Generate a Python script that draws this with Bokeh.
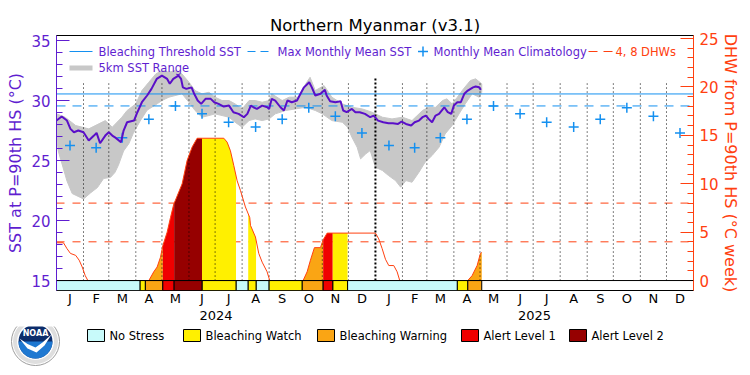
import numpy as np
import pandas as pd
from bokeh.plotting import figure
from bokeh.layouts import column
from bokeh.models import Range1d, LinearAxis, FixedTicker, Label, Span
from bokeh.embed import file_html
from bokeh.resources import INLINE
from bokeh.core.properties import value

# ---------------- data ----------------
title = "Northern Myanmar (v3.1)"
start_date = "2024-01-01"
end_date = "2026-01-01"

# daily SST, days since 2024-01-01 / degC
sst_day = [0, 6, 12, 16, 20, 25, 31, 37, 43, 46, 50, 56, 60, 64, 68, 74, 77, 81, 89, 92,
           98, 104, 109, 115, 121, 127, 130, 134, 140, 143, 145, 149, 155, 158, 162, 166, 171, 177, 181, 186,
           192, 198, 203, 209, 215, 219, 223, 226, 230, 236, 242, 244, 247, 251, 257, 261, 265, 270, 276, 280,
           284, 290, 293, 297, 303, 308, 310, 314, 320, 326, 329, 333, 339, 343, 348, 354, 360, 364, 369, 375,
           381, 386, 392, 396, 401, 407, 411, 416, 420, 424, 427, 431, 435, 439, 445, 449, 453, 456, 460, 464,
           468, 472, 478, 481, 485, 487]
sst_val = [28.33, 28.67, 28.33, 27.64, 27.36, 27.5, 27.36, 26.67, 27.08, 27.3, 26.44, 27.08, 27.36, 27.08, 26.89, 26.53, 27.5, 28.19, 28.33, 28.89,
           29.86, 30.42, 30.97, 31.8, 32.08, 31.8, 31.4, 31.8, 32.08, 31.8, 31.1, 30.97, 31.1, 30.56, 30.0, 29.72, 30.14, 30.14, 29.86, 29.72,
           29.5, 29.58, 29.03, 28.89, 28.61, 28.89, 29.58, 29.44, 29.3, 29.58, 29.44, 29.3, 30.14, 30.0, 29.44, 29.17, 30.0, 29.86, 30.0, 30.56,
           31.1, 31.53, 31.1, 30.42, 30.56, 30.89, 30.42, 29.94, 29.86, 29.94, 29.17, 29.03, 29.3, 29.03, 29.03, 28.89, 28.61, 28.75, 28.33, 28.19,
           28.11, 28.11, 28.05, 28.25, 28.05, 27.92, 28.19, 28.33, 28.61, 28.75, 28.47, 28.19, 28.75, 28.89, 29.44, 29.03, 28.89, 29.58, 29.86, 29.86,
           30.56, 30.83, 31.1, 31.17, 31.1, 30.89]

# 5km SST range envelope
sst_max_day = [0, 10, 22, 37, 56, 64, 75, 81, 91, 98, 106, 114, 121, 129, 136, 144, 152, 159, 167, 175,
               182, 190, 198, 205, 213, 221, 228, 236, 244, 247, 259, 267, 278, 286, 291, 297, 307, 316, 328, 339,
               351, 362, 374, 385, 397, 408, 420, 427, 435, 443, 448, 454, 460, 467, 475, 481, 488]
sst_max = [28.89, 28.61, 27.92, 27.64, 28.33, 27.78, 28.61, 29.17, 29.72, 30.83, 31.53, 32.22, 32.5, 32.36, 32.5, 32.22, 31.53, 30.83, 30.56, 30.69,
           30.28, 30.0, 30.0, 29.72, 29.3, 30.0, 30.0, 29.86, 30.0, 30.56, 30.0, 30.28, 30.28, 31.39, 31.94, 30.83, 31.25, 30.28, 29.72, 29.44,
           29.3, 29.03, 28.61, 28.47, 28.61, 28.33, 29.17, 29.44, 29.44, 30.0, 30.14, 29.72, 30.28, 30.97, 31.67, 31.81, 31.39]
sst_min_day = [0, 2, 12, 18, 31, 39, 47, 54, 62, 67, 71, 77, 83, 88, 96, 104, 116, 121, 129, 144,
               152, 159, 167, 175, 182, 190, 198, 205, 213, 221, 228, 236, 244, 251, 263, 274, 286, 297, 305, 316,
               328, 334, 339, 345, 349, 355, 360, 366, 374, 381, 389, 395, 401, 408, 416, 423, 431, 439, 446, 454,
               462, 469, 477, 485, 488]
sst_min = [27.0, 25.8, 23.3, 22.25, 21.8, 22.3, 22.75, 23.5, 23.6, 24.0, 24.6, 25.8, 26.4, 27.25, 28.3, 29.2, 29.75, 30.0, 30.28, 30.56,
           29.86, 29.17, 28.61, 28.75, 28.89, 28.75, 28.61, 28.19, 27.78, 28.33, 28.47, 28.33, 28.47, 28.89, 29.17, 29.3, 29.44, 29.17, 28.89, 28.33,
           28.19, 27.78, 26.94, 26.11, 25.14, 25.56, 25.83, 24.44, 24.17, 23.75, 23.33, 22.78, 23.33, 23.19, 24.03, 24.86, 25.42, 26.11, 27.22, 27.92,
           28.89, 29.72, 30.56, 30.28, 30.69]

# monthly mean climatology (Jan..Dec), max monthly mean, bleaching threshold
clim_sst = [26.25, 26.06, 26.9, 28.45, 29.55, 28.9, 28.2, 27.8, 28.45, 29.4, 28.7, 27.3]
mmm_sst = 29.55
threshold_sst = 30.55
dhw_levels = [4, 8]

# degree heating weeks (days since 2024-01-01 / degC-weeks)
dhw_day = [0, 8, 12, 16, 22, 26, 29.5, 33, 36,
           106, 111.6, 115.5, 119.3, 122, 127, 130.8, 134.6, 136.5, 144.2, 149.9, 155.7, 161.4, 192, 195.8, 199.6,
           203.4, 207.3, 211.1, 216.8, 221.8, 222.6, 228.3, 232.1, 236, 241.7, 244.7,
           283, 287.6, 291.4, 296, 302.9, 306, 310.6, 366, 369.8, 373.7, 377.5, 381.3, 387, 390.9, 393.9,
           471.9, 476.9, 482.7, 486.5, 488]
dhw_val = [3.9, 3.9, 3.3, 2.8, 2.6, 2.1, 1.4, 0.5, 0,
           0, 0.9, 1.4, 2.4, 3.6, 5.0, 6.5, 7.9, 8.3, 10.0, 12.4, 13.8, 14.7, 14.7, 14.3, 13.4,
           11.9, 10.3, 9.3, 7.6, 6.5, 5.7, 4.5, 2.8, 1.9, 0.9, 0,
           0, 0.9, 2.1, 3.4, 3.4, 4.2, 4.9, 4.9, 4.3, 3.3, 2.2, 1.55, 1.55, 0.9, 0,
           0, 0.5, 1.55, 2.8, 2.9]

# bleaching alert status
status_start = ["2024-01-01", "2024-04-06", "2024-04-12", "2024-05-02", "2024-05-15", "2024-06-16",
                "2024-07-25", "2024-08-08", "2024-08-17", "2024-09-01", "2024-10-09", "2024-11-02",
                "2024-11-13", "2024-11-30", "2025-04-05", "2025-04-17"]
status_level = [0, 1, 2, 3, 4, 1, 0, 1, 0, 1, 2, 3, 1, 0, 1, 2]
status_end = "2025-05-03"
status_names = ["No Stress", "Bleaching Watch", "Bleaching Warning", "Alert Level 1", "Alert Level 2"]
status_colors = ["#c8fafa", "#fff000", "#faa514", "#f00000", "#960000"]
year_names = ["2024", "2025"]

# ---------------- styling ----------------
PURPLE = "#5f1ed0"
SSTLINE = "#5a0fc8"
BLUE = "#1490f0"
RED = "#ff4010"
GRAY = "#c8c8c8"
FONT = "DejaVu Sans"

T0 = pd.Timestamp(start_date)
def day(s):
    return float((pd.Timestamp(s) - T0).days)

NDAYS = day(end_date)
SST_LO, SST_HI = 14.17, 35.42
PX_C, PX_DHW = 12.0, 9.68
DHW_LO = (SST_LO - 15) * PX_C / PX_DHW
DHW_HI = (SST_HI - 15) * PX_C / PX_DHW

# page-pixel helpers for in-frame decorations (frame: x 56..693, y 35..290)
FX0, FX1, FY0, FY1 = 56, 693, 35, 290
def px_x(X):
    return (X - FX0) / (FX1 - FX0) * NDAYS
def px_y(Y):
    return SST_HI - (Y - FY0) / (FY1 - FY0) * (SST_HI - SST_LO)

MAIN_H = 326
p = figure(width=750, height=MAIN_H, x_range=Range1d(0, NDAYS), y_range=Range1d(SST_LO, SST_HI),
           x_axis_type=None, y_axis_type=None, output_backend="svg", toolbar_location=None,
           min_border_left=FX0, min_border_right=750 - FX1, min_border_top=FY0, min_border_bottom=MAIN_H - FY1)
p.extra_y_ranges = {"dhw": Range1d(DHW_LO, DHW_HI)}
p.outline_line_color = "black"
p.background_fill_color = "white"
p.border_fill_color = "white"
p.frame_align = False

p.title.text = title
p.title.align = "center"
p.title.text_font = FONT
p.title.text_font_size = "16.5px"
p.title.text_font_style = "normal"
p.title.text_color = "black"
p.title.standoff = 2

# axes
ax_l = LinearAxis(ticker=FixedTicker(ticks=[15, 20, 25, 30, 35], minor_ticks=list(range(15, 36))),
                  axis_label="SST at P=90th HS (°C)")
ax_r = LinearAxis(y_range_name="dhw", ticker=FixedTicker(ticks=[0, 5, 10, 15, 20, 25], minor_ticks=list(range(0, 26))),
                  axis_label="DHW from P=90th HS (°C week)")
for ax, col, so in ((ax_l, PURPLE, 3), (ax_r, RED, -1)):
    ax.axis_line_color = col
    ax.major_tick_line_color = col
    ax.minor_tick_line_color = col
    ax.major_tick_in = 13
    ax.major_tick_out = 0
    ax.minor_tick_in = 6
    ax.minor_tick_out = 0
    ax.major_label_text_color = col
    ax.major_label_text_font = FONT
    ax.major_label_text_font_size = "15px"
    ax.major_label_standoff = 6
    ax.axis_label_text_color = col
    ax.axis_label_text_font = FONT
    ax.axis_label_text_font_size = "16px"
    ax.axis_label_text_font_style = "normal"
    ax.axis_label_standoff = so
p.add_layout(ax_l, "left")
p.add_layout(ax_r, "right")

months = pd.date_range(start_date, end_date, freq="MS")
mstart = [day(m) for m in months]
mid = [(mstart[i] + mstart[i + 1]) / 2 for i in range(len(mstart) - 1)]
mlab = {float(mid[i]): months[i].strftime("%b")[0] for i in range(len(mid))}
ax_m = LinearAxis(ticker=FixedTicker(ticks=mid), major_label_overrides=mlab)
ystart = [day(y) for y in pd.date_range(start_date, end_date, freq="YS")]
ymid = [(ystart[i] + ystart[i + 1]) / 2 for i in range(len(ystart) - 1)]
ax_y = LinearAxis(ticker=FixedTicker(ticks=ymid),
                  major_label_overrides={float(ymid[i]): year_names[i] for i in range(len(ymid))})
for ax, so in ((ax_m, 0), (ax_y, 2)):
    ax.axis_line_color = None
    ax.major_tick_line_color = None
    ax.minor_tick_line_color = None
    ax.major_tick_in = 0
    ax.major_tick_out = 0
    ax.minor_tick_in = 0
    ax.minor_tick_out = 0
    ax.major_label_text_font = FONT
    ax.major_label_text_font_size = "13px"
    ax.major_label_text_color = "black"
    ax.major_label_standoff = so
p.add_layout(ax_m, "below")
p.add_layout(ax_y, "below")

# SST range
p.patch(sst_max_day + sst_min_day[::-1], sst_max + sst_min[::-1], fill_color=GRAY, line_color=GRAY, line_width=1)

# DHW 4/8 lines
for lv in dhw_levels:
    p.line([0, NDAYS], [lv, lv], y_range_name="dhw", line_color=RED, line_width=1, line_dash="8 8")

# MMM and threshold
p.line([0, NDAYS], [mmm_sst, mmm_sst], line_color=BLUE, line_width=1, line_dash="9 7")
p.line([0, NDAYS], [threshold_sst, threshold_sst], line_color=BLUE, line_width=1)

# status-coloured DHW fill
st_days = [day(s) for s in status_start] + [day(status_end)]
for i, lvl in enumerate(status_level):
    if lvl == 0:
        continue
    s, e = st_days[i], st_days[i + 1]
    xs = [s] + [d for d in dhw_day if s < d < e] + [e]
    ys = list(np.interp(xs, dhw_day, dhw_val))
    p.varea(x=xs, y1=[0] * len(xs), y2=ys, y_range_name="dhw", fill_color=status_colors[lvl])

# monthly dotted lines
dot_x = [m for m in mstart[1:-1] if m != day("2025-01-01")]
p.segment(x0=dot_x, y0=[15] * len(dot_x), x1=dot_x, y1=[px_y(80)] * len(dot_x),
          line_color="black", line_width=1, line_dash="1 3")
p.segment(x0=[day("2025-01-01")], y0=[15], x1=[day("2025-01-01")], y1=[px_y(77)],
          line_color="black", line_width=2, line_dash="2 2")

# climatology
p.scatter(mid, clim_sst * 2, marker="cross", size=10, line_color=BLUE, line_width=1.5)

# SST line
p.line(sst_day, sst_val, line_color=SSTLINE, line_width=2)

# DHW line (broken where it sits at zero)
lx, ly = [], []
for i in range(len(dhw_day)):
    if i > 0 and dhw_val[i] == 0 and dhw_val[i - 1] == 0:
        lx.append(np.nan)
        ly.append(np.nan)
    lx.append(dhw_day[i])
    ly.append(dhw_val[i])
p.line(lx, ly, y_range_name="dhw", line_color=RED, line_width=1)

# status bar
for lvl in range(5):
    idx = [i for i, l in enumerate(status_level) if l == lvl]
    p.quad(left=[st_days[i] for i in idx], right=[st_days[i + 1] for i in idx],
           bottom=[SST_LO] * len(idx), top=[15] * len(idx),
           fill_color=status_colors[lvl], line_color="black", line_width=1)
p.add_layout(Span(location=15, dimension="width", line_color="black", line_width=1))

# in-plot legend
def lab(text, X, Y, color, size="11.5px", align="left"):
    p.add_layout(Label(x=px_x(X), y=px_y(Y), text=text, text_color=color, text_font=FONT,
                       text_font_size=size, text_align=align, text_baseline="middle"))

y1, y2 = 51, 67.5
p.line([px_x(69), px_x(92)], [px_y(y1)] * 2, line_color=BLUE, line_width=1)
lab("Bleaching Threshold SST", 98, y1, PURPLE)
p.line([px_x(247), px_x(268)], [px_y(y1)] * 2, line_color=BLUE, line_width=1, line_dash="8 5")
lab("Max Monthly Mean SST", 277, y1, PURPLE)
p.scatter([px_x(422.5)], [px_y(y1)], marker="cross", size=10, line_color=BLUE, line_width=1.5)
lab("Monthly Mean Climatology", 433, y1, PURPLE)
p.line([px_x(588), px_x(612)], [px_y(y1)] * 2, line_color=RED, line_width=1, line_dash="9 6")
lab("4, 8 DHWs", 615, y1, RED)
p.line([px_x(69), px_x(92)], [px_y(y2)] * 2, line_color=GRAY, line_width=5)
lab("5km SST Range", 98, y2, PURPLE)

# ---------------- bottom strip: status legend + logo ----------------
BOT_H = 375 - MAIN_H
p2 = figure(width=750, height=BOT_H, x_range=Range1d(0, 750), y_range=Range1d(0, BOT_H),
            x_axis_type=None, y_axis_type=None, output_backend="svg", toolbar_location=None,
            min_border=0, outline_line_color=None)
p2.background_fill_color = "white"
p2.border_fill_color = "white"
p2.frame_align = False

def by(Y):  # page y -> strip y
    return 375 - Y

box_x = [87, 183, 317, 461, 569]
p2.quad(left=box_x, right=[b + 17 for b in box_x], bottom=[by(341)] * 5, top=[by(329)] * 5,
        fill_color=status_colors, line_color="black", line_width=1)
p2.text(x=[b + 22 for b in box_x], y=[by(335)] * 5, text=status_names,
        text_font=value(FONT), text_font_size=value("11.5px"), text_baseline="middle",
        text_align="left", text_color="black")

# NOAA logo
cx, cy = 35, by(341)
p2.scatter([cx], [cy], marker="circle", size=48, fill_color="white", line_color="#9c9c9c", line_width=1)
p2.annular_wedge([cx], [cy], inner_radius=18.5, outer_radius=22.5, start_angle=0, end_angle=2 * np.pi,
                 fill_color="#dedede", line_color=None)
p2.scatter([cx], [cy], marker="circle", size=34, fill_color="#0c2d6b", line_color=None)
p2.wedge([cx], [cy], radius=17, start_angle=np.pi, end_angle=2 * np.pi, fill_color="#1f78d1", line_color=None)
gx = [19, 27, 35, 42, 51, 44, 36, 27]
gy = [338, 343.5, 347, 342, 334, 345, 352, 348]
p2.patch([cx - 35 + g for g in gx], [by(g) for g in gy], fill_color="white", line_color=None)
p2.text([cx], [by(333)], text=["NOAA"], text_font=value(FONT), text_font_size=value("8px"),
        text_font_style="bold", text_color="white", text_align="center", text_baseline="middle")

layout = column(p, p2, spacing=0)
open("out.html", "w").write(file_html(layout, INLINE))
